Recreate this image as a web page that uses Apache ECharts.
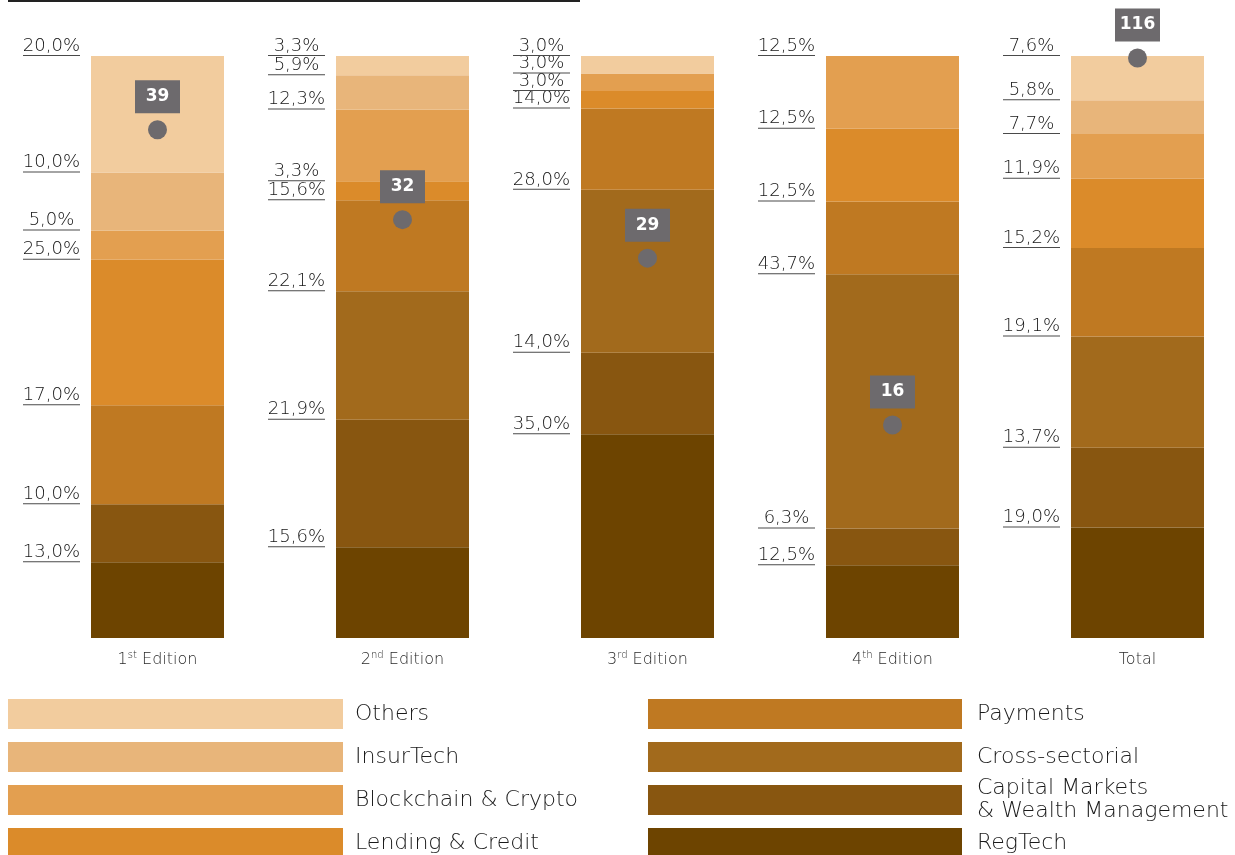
<!DOCTYPE html>
<html><head><meta charset="utf-8">
<script src="https://cdn.jsdelivr.net/npm/echarts@6/dist/echarts.min.js"></script>
<style>html,body{margin:0;padding:0;background:#fff}#c{width:1235px;height:855px}</style>
</head><body><div id="c"></div>
<script>
// ---- data ----
const editions = ['1st Edition', '2nd Edition', '3rd Edition', '4th Edition', 'Total'];
const sectors = ['RegTech', 'Capital Markets & Wealth Management', 'Cross-sectorial', 'Payments',
  'Lending & Credit', 'Blockchain & Crypto', 'InsurTech', 'Others'];
const regTech          = [13.0, 15.6, 35.0, 12.5, 19.0];
const capitalMarkets   = [10.0, 21.9, 14.0,  6.3, 13.7];
const crossSectorial   = [ 0.0, 22.1, 28.0, 43.7, 19.1];
const payments         = [17.0, 15.6, 14.0, 12.5, 15.2];
const lendingCredit    = [25.0,  3.3,  3.0, 12.5, 11.9];
const blockchainCrypto = [ 5.0, 12.3,  3.0, 12.5,  7.7];
const insurTech        = [10.0,  5.9,  0.0,  0.0,  5.8];
const others           = [20.0,  3.3,  3.0,  0.0,  7.6];
const editionCounts = [39, 32, 29, 16];
const totalCount = 116;

const sectorValues = [regTech, capitalMarkets, crossSectorial, payments, lendingCredit, blockchainCrypto, insurTech, others];
const colors = ['#6d4400', '#885610', '#a26a1c', '#bf7922', '#db8b2a', '#e39f50', '#e8b57a', '#f2cc9e'];
const FONT = '"DejaVu Sans"';

const fmt = v => v.toFixed(1).replace('.', ',') + '%';

const barSeries = sectors.map((name, i) => ({
  name, type: 'bar', stack: 'share', yAxisIndex: 0, barWidth: 133, clip: false,
  data: sectorValues[i],
  itemStyle: { color: colors[i] },
  label: {
    show: true, position: [-11, 0], align: 'right', verticalAlign: 'bottom',
    formatter: p => p.value ? `{t|${fmt(p.value)}}\n{u| }` : '',
    rich: {
      t: { fontFamily: FONT, fontWeight: 200, fontSize: 18, color: '#151515', align: 'center', lineHeight: 18 },
      u: { width: 57, height: 1, lineHeight: 1, fontSize: 1, backgroundColor: '#4a4a4a' }
    }
  },
  emphasis: { disabled: true }
}));

const countLabel = {
  show: true, position: 'top', distance: 7, formatter: '{c}',
  backgroundColor: '#6d6a6d', color: '#fff', fontFamily: FONT, fontWeight: 'bold', fontSize: 17,
  width: 45, align: 'center', lineHeight: 19, padding: [7, 0]
};

const scatterSeries = [
  { type: 'scatter', yAxisIndex: 1, symbolSize: 19, z: 10, clip: false,
    data: editionCounts.concat(['-']),
    itemStyle: { color: '#6d6a6d', opacity: 1 }, label: countLabel, emphasis: { disabled: true } },
  { type: 'scatter', yAxisIndex: 2, symbolSize: 19, z: 10, clip: false,
    data: editionCounts.map(() => '-').concat([totalCount]),
    itemStyle: { color: '#6d6a6d', opacity: 1 }, label: countLabel, emphasis: { disabled: true } }
];

// legend (custom, two columns)
const legendCols = [
  { idx: [7, 6, 5, 4], x: 8, w: 335, tx: 355 },
  { idx: [3, 2, 1, 0], x: 648, w: 314, tx: 977 }
];
const legendTops = [699, 742, 785, 828];
const graphics = [{ type: 'line', shape: { x1: 8, y1: 1, x2: 580, y2: 1 }, style: { stroke: '#222', lineWidth: 2 } }];
legendCols.forEach(col => {
  col.idx.forEach((si, r) => {
    const y = legendTops[r];
    graphics.push({ type: 'rect', shape: { x: col.x, y, width: col.w, height: 30 }, style: { fill: colors[si] } });
    graphics.push({ type: 'text', x: col.tx, y: y + 15,
      style: { text: sectors[si].replace(' & Wealth', '\n& Wealth'), fill: '#1a1a1a', font: `200 22px ${FONT}`,
        verticalAlign: 'middle', align: 'left', lineHeight: 23 } });
  });
});

const chart = echarts.init(document.getElementById('c'), null, { renderer: 'canvas' });
chart.setOption({
  animation: false,
  grid: { left: 157.5, top: 56, width: 980, height: 582 },
  xAxis: {
    type: 'category', data: editions, boundaryGap: false,
    axisLine: { show: false }, axisTick: { show: false },
    axisLabel: {
      margin: 12,
      formatter: v => {
        const m = v.match(/^(\d)(st|nd|rd|th) (.*)$/);
        return m ? `{b|${m[1]}}{s|${m[2]}}{b| ${m[3]}}` : `{b|${v}}`;
      },
      rich: {
        b: { fontFamily: FONT, fontWeight: 200, fontSize: 16, color: '#2a2a2a', lineHeight: 20 },
        s: { fontFamily: FONT, fontWeight: 200, fontSize: 10, color: '#2a2a2a', lineHeight: 10, verticalAlign: 'top' }
      }
    }
  },
  yAxis: [
    { type: 'value', min: 0, max: 100, show: false },
    { type: 'value', min: -0.6, max: 44.75, show: false },
    { type: 'value', min: 0, max: 116.4, show: false }
  ],
  series: barSeries.concat(scatterSeries),
  graphic: graphics
});
</script></body></html>
